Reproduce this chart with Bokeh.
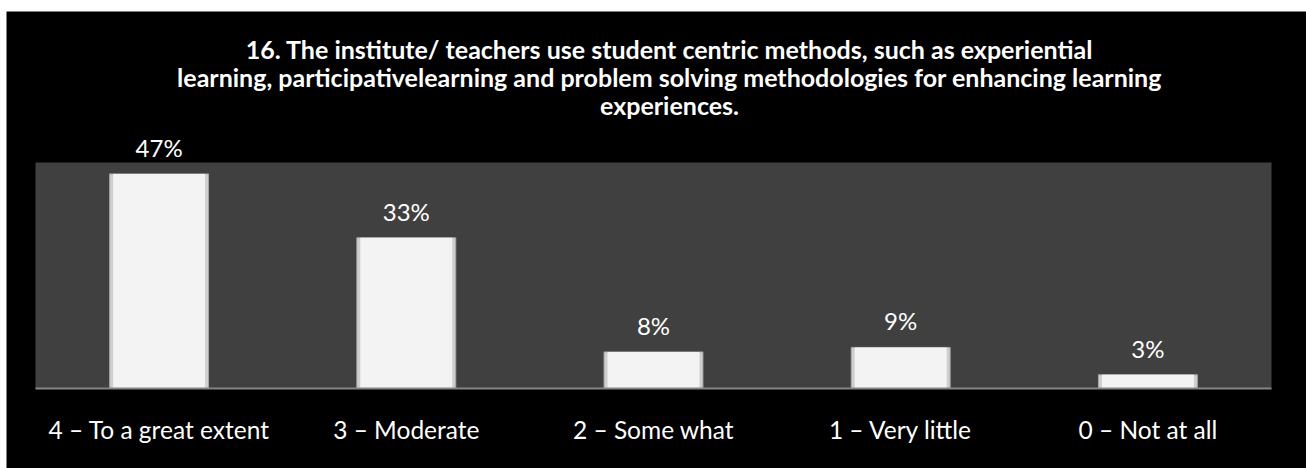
from bokeh.plotting import figure
from bokeh.models import ColumnDataSource, LabelSet, Label, BoxAnnotation, Range1d
from bokeh.core.properties import value
from bokeh.embed import file_html
from bokeh.resources import INLINE

categories = ["4 – To a great extent", "3 – Moderate", "2 – Some what", "1 – Very little", "0 – Not at all"]
values = [47, 33, 8, 9, 3]
value_labels = ["47%", "33%", "8%", "9%", "3%"]
title_lines = [
    "16. The institute/ teachers use student centric methods, such as experiential",
    "learning, participativelearning and problem solving methodologies for enhancing learning",
    "experiences.",
]

FONT = "Lato"
AXIS_MAX = 49.5          # top of the grey plot area (value axis units)
N = len(categories)
positions = [i + 0.5 for i in range(N)]

src = ColumnDataSource(dict(x=positions, cat=categories, val=values, lab=value_labels,
                            zero=[0] * N))

p = figure(
    x_range=Range1d(-0.1173, N + 0.1416),
    y_range=Range1d(-17.52, 82.57),
    width=1306, height=468,
    output_backend="svg", toolbar_location=None,
    x_axis_location=None, y_axis_location=None,
    min_border_left=6, min_border_right=0, min_border_bottom=0, min_border_top=11,
)
p.title.visible = False
p.background_fill_color = "black"
p.border_fill_color = "white"
p.outline_line_color = None
p.xgrid.visible = False
p.ygrid.visible = False

# grey plot area
p.add_layout(BoxAnnotation(left=0, right=N, bottom=0, top=AXIS_MAX, fill_color="#404040",
                           fill_alpha=1, line_color=None, level="underlay"))

# bars (bevelled look: darker rim + light face)
p.vbar(x="x", top="val", width=0.4, bottom=0, source=src,
       fill_color="#cfcfcf", line_color="#a8a8a8", line_width=1)
p.vbar(x="x", top="val", width=0.372, bottom=0, source=src,
       fill_color="#f3f3f3", line_color=None)

# category axis line
p.segment(x0=0, y0=0, x1=N, y1=0, line_color="#868686", line_width=2)

# value labels
p.add_layout(LabelSet(x="x", y="val", text="lab", source=src, text_align="center",
                      text_baseline="alphabetic", y_offset=17, text_color="white",
                      text_font=value(FONT), text_font_size="24px"))

# category labels
p.add_layout(LabelSet(x="x", y="zero", text="cat", source=src, text_align="center",
                      text_baseline="alphabetic", y_offset=-50, text_color="white",
                      text_font=value(FONT), text_font_size="24.5px"))

# title (three centred lines)
baselines = [420, 392, 364]   # screen px above the bottom of the chart
for line, yb in zip(title_lines, baselines):
    p.add_layout(Label(x=663, y=yb, x_units="screen", y_units="screen", text=line,
                       text_align="center", text_baseline="alphabetic", text_color="white",
                       text_font=FONT, text_font_style="bold", text_font_size="25px"))

open("out.html", "w").write(file_html(p, INLINE))
